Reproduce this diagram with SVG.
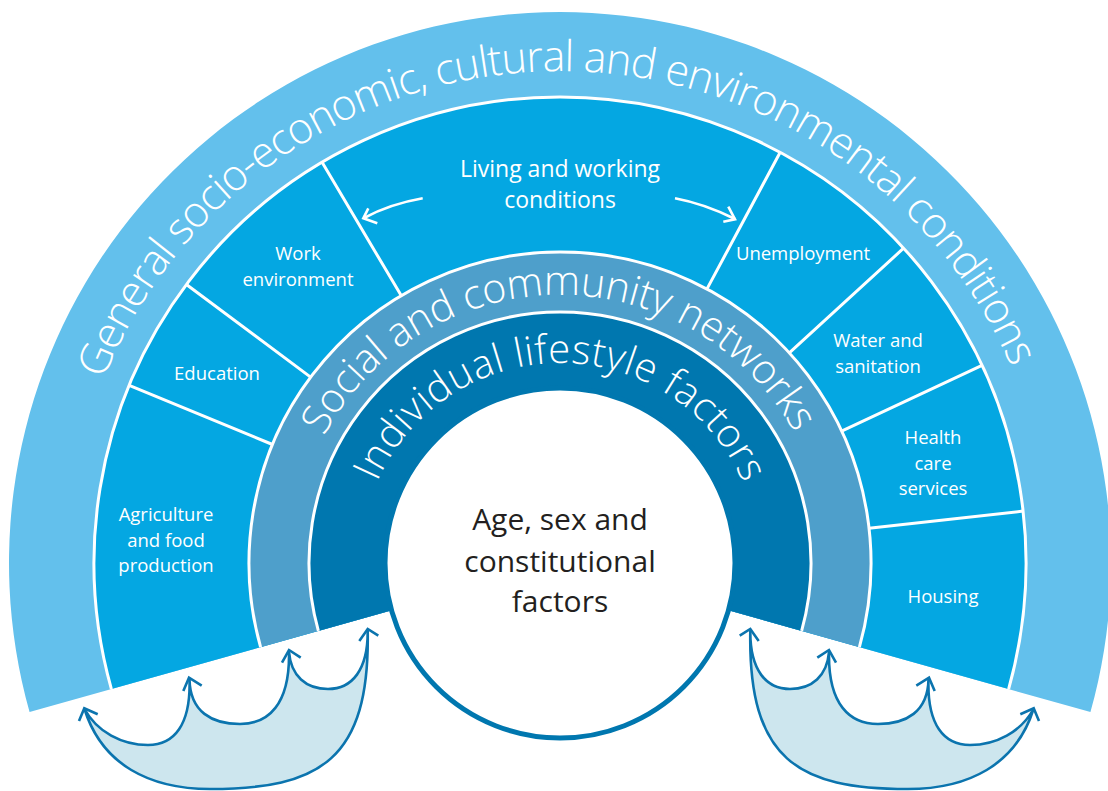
<svg xmlns="http://www.w3.org/2000/svg" xmlns:xlink="http://www.w3.org/1999/xlink" width="1108" height="791" viewBox="0 0 1108 791">
<style>
.arc{fill:#fff;font-family:"Open Sans","Noto Sans",sans-serif;font-weight:300}
.lbl{fill:#fff;font-family:"Open Sans","Noto Sans",sans-serif;font-size:18.5px;text-anchor:middle}
.sep{fill:none;stroke:#fff;stroke-width:3}
.ctr{fill:#231f20;font-family:"Open Sans","Noto Sans",sans-serif;font-size:30px;text-anchor:middle}
.wv{fill:#cde6ee;stroke:#0b74ae;stroke-width:2.6;stroke-linejoin:round}
.chev{fill:none;stroke:#0b74ae;stroke-width:2.6;stroke-linejoin:miter;stroke-linecap:butt}
.wa{fill:none;stroke:#fff;stroke-width:2.6}
</style>
<defs>
<path id="p5" d="M68,563 A492,492 0 0 1 1052,563"/>
<path id="p3" d="M292,563 A268,268 0 0 1 828,563"/>
<path id="p2" d="M360,563 A200,200 0 0 1 760,563"/>
<g id="wave">
<path class="wv" d="M84.5,709 C97,732 122,745 148,745 C174,745 191,725 189.5,679 C190,712 212,724 240,724 C268,724 290,705 289,652 C291,676 306,689 328,689 C352,689 368,670 367.7,631 C370,760 320,789 210,789 C150,789 102,765 84.5,709 Z"/>
<path class="chev" d="M79,721 L84.3,708.3 L97.7,714.3"/>
<path class="chev" d="M183.3,691 L189,677.7 L201.7,685.7"/>
<path class="chev" d="M282,662.7 L289,650 L300.7,657.7"/>
<path class="chev" d="M359.3,641 L367.7,629 L378.3,635.7"/>
</g>
</defs>
<g id="general">
<path fill="#63c0ec" d="M29.56,712.1 A551,551 0 1 1 1090.44,712.1 L560,563 Z"/>
<text class="arc" font-size="43"><textPath xlink:href="#p5" startOffset="188" textLength="1156" lengthAdjust="spacing">General socio-economic, cultural and environmental conditions</textPath></text>
</g>
<g id="living-working">
<path fill="#04a7e2" d="M111.39,689.1 A466,466 0 1 1 1008.61,689.1 L560,563 Z"/>
<path class="sep" d="M111.39,689.1 A466,466 0 1 1 1008.61,689.1"/>
<path class="sep" d="M129.2,385.4 L272.5,444.5 M186.4,284.5 L310.6,377.1 M322.1,162.3 L401.2,295.6 M780.2,152.3 L707,288.9 M903.6,248.2 L789.3,352.9 M982,365.3 L841.6,431.1 M1023.1,511.1 L869.1,528.3"/>
<text class="lbl" font-size="23" style="font-size:23px"><tspan x="560" y="177">Living and working</tspan><tspan x="560" y="208">conditions</tspan></text>
<path class="wa" d="M422.7,198.3 Q390,204 364,218"/>
<path class="wa" d="M368.3,208.3 L363.3,218.3 L377.3,223.3"/>
<path class="wa" d="M675,198.3 Q705,204 735,219"/>
<path class="wa" d="M728.3,206.7 L735,219.3 L723.3,221.7"/>
</g>
<g id="agriculture"><text class="lbl"><tspan x="166" y="521">Agriculture</tspan><tspan x="166" y="547">and food</tspan><tspan x="166" y="572">production</tspan></text></g>
<g id="education"><text class="lbl" x="217" y="380">Education</text></g>
<g id="work"><text class="lbl"><tspan x="298" y="260">Work</tspan><tspan x="298" y="286">environment</tspan></text></g>
<g id="unemployment"><text class="lbl" x="803" y="260">Unemployment</text></g>
<g id="water"><text class="lbl"><tspan x="878" y="347">Water and</tspan><tspan x="878" y="373">sanitation</tspan></text></g>
<g id="health"><text class="lbl"><tspan x="933" y="444">Health</tspan><tspan x="933" y="470">care</tspan><tspan x="933" y="495">services</tspan></text></g>
<g id="housing"><text class="lbl" x="943" y="603">Housing</text></g>
<g id="social">
<path fill="#4e9fcb" d="M260.6,647.16 A311,311 0 1 1 859.4,647.16 L560,563 Z"/>
<path class="sep" d="M260.6,647.16 A311,311 0 1 1 859.4,647.16"/>
<text class="arc" font-size="41"><textPath xlink:href="#p3" startOffset="132" textLength="574" lengthAdjust="spacing">Social and community networks</textPath></text>
</g>
<g id="individual">
<path fill="#0077af" d="M318.36,630.92 A251,251 0 1 1 801.64,630.92 L560,563 Z"/>
<path class="sep" d="M318.36,630.92 A251,251 0 1 1 801.64,630.92"/>
<text class="arc" font-size="40"><textPath xlink:href="#p2" startOffset="83" textLength="463" lengthAdjust="spacing">Individual lifestyle factors</textPath></text>
</g>
<g id="core">
<circle cx="560" cy="563" r="175" fill="#fff" stroke="#0077af" stroke-width="5"/>
<text class="ctr"><tspan x="560" y="530">Age, sex and</tspan><tspan x="560" y="572">constitutional</tspan><tspan x="560" y="612">factors</tspan></text>
</g>
<g id="connectors">
<use xlink:href="#wave"/>
<use xlink:href="#wave" transform="translate(1118 0) scale(-1 1)"/>
</g>
</svg>
